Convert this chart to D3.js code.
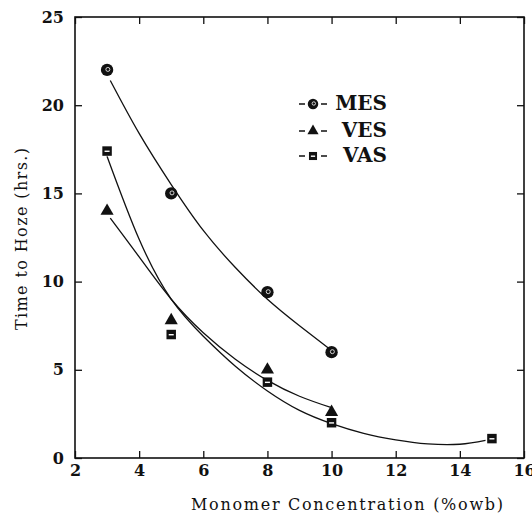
<!DOCTYPE html>
<html>
<head>
<meta charset="utf-8">
<script src="https://cdn.jsdelivr.net/npm/d3@7"></script>
<style>
  body { margin: 0; background: #fff; }
</style>
</head>
<body>
<div id="chart"></div>
<script>
// measured points
var mesX = [3, 5, 8, 10];
var mesY = [22, 15, 9.4, 6];
var vesX = [3, 5, 8, 10];
var vesY = [14, 7.8, 5, 2.6];
var vasX = [3, 5, 8, 10, 15];
var vasY = [17.4, 7, 4.3, 2, 1.1];

// fitted curves
var mesFitX = [3.1, 4, 5, 6, 7, 8, 9, 10];
var mesFitY = [21.4, 18.4, 15.5, 12.9, 10.8, 9.0, 7.5, 6.1];
var vesFitX = [3.1, 4, 5, 6, 7, 8, 9, 10];
var vesFitY = [13.6, 11.4, 9.0, 7.1, 5.6, 4.4, 3.5, 2.85];
var vasFitX = [3.0, 4, 5, 6, 7, 8, 9, 10, 11, 12, 13, 14, 14.8];
var vasFitY = [17.1, 12.4, 9.0, 6.9, 5.2, 3.8, 2.7, 1.95, 1.4, 1.03, 0.8, 0.78, 1.0];

var xTicks = [2, 4, 6, 8, 10, 12, 14, 16];
var yTicks = [0, 5, 10, 15, 20, 25];
var seriesNames = ["MES", "VES", "VAS"];

var W = 532, H = 520;
var plotL = 75, plotR = 524, plotT = 17, plotB = 458;
var font = "'DejaVu Serif', serif";

var x = d3.scaleLinear().domain([2, 16]).range([plotL, plotR]);
var y = d3.scaleLinear().domain([0, 25]).range([plotB, plotT]);

var svg = d3.select("#chart").append("svg")
    .attr("width", W)
    .attr("height", H);

function zip(xs, ys) { return xs.map(function(v, i) { return [v, ys[i]]; }); }

//
// axes
//
function styleAxis(g) {
    g.attr("font-family", font).attr("font-size", 16).attr("font-weight", "bold");
    g.select(".domain").remove();
    g.selectAll(".tick line").attr("stroke", "#111").attr("stroke-width", 1.3);
    g.selectAll(".tick text").attr("fill", "#111");
}

svg.append("g")
    .attr("transform", "translate(0," + plotB + ")")
    .call(d3.axisBottom(x).tickValues(xTicks).tickSizeInner(-7).tickSizeOuter(0).tickPadding(7)
        .tickFormat(d3.format("d")))
    .call(styleAxis);

svg.append("g")
    .attr("transform", "translate(0," + plotT + ")")
    .call(d3.axisTop(x).tickValues(xTicks).tickSizeInner(-7).tickSizeOuter(0).tickFormat(""))
    .call(styleAxis);

svg.append("g")
    .attr("transform", "translate(" + plotL + ",0)")
    .call(d3.axisLeft(y).tickValues(yTicks).tickSizeInner(-7).tickSizeOuter(0).tickPadding(11)
        .tickFormat(d3.format("d")))
    .call(styleAxis);

svg.append("g")
    .attr("transform", "translate(" + plotR + ",0)")
    .call(d3.axisRight(y).tickValues(yTicks).tickSizeInner(-7).tickSizeOuter(0).tickFormat(""))
    .call(styleAxis);

// frame
svg.append("rect")
    .attr("x", plotL)
    .attr("y", plotT)
    .attr("width", plotR - plotL)
    .attr("height", plotB - plotT)
    .attr("fill", "none")
    .attr("stroke", "#111")
    .attr("stroke-width", 1.6);

// axis titles
svg.append("text")
    .attr("x", 347)
    .attr("y", 510)
    .attr("text-anchor", "middle")
    .attr("font-family", font)
    .attr("font-size", 16)
    .attr("fill", "#111")
    .attr("textLength", 312)
    .attr("lengthAdjust", "spacing")
    .text("Monomer Concentration (%owb)");

svg.append("text")
    .attr("transform", "translate(27,239) rotate(-90)")
    .attr("text-anchor", "middle")
    .attr("font-family", font)
    .attr("font-size", 16)
    .attr("fill", "#111")
    .attr("textLength", 182)
    .attr("lengthAdjust", "spacing")
    .text("Time to Hoze (hrs.)");

//
// fitted curves
//
var line = d3.line()
    .x(function(d) { return x(d[0]); })
    .y(function(d) { return y(d[1]); })
    .curve(d3.curveNatural);

[zip(mesFitX, mesFitY), zip(vesFitX, vesFitY), zip(vasFitX, vasFitY)].forEach(function(pts) {
    svg.append("path")
        .datum(pts)
        .attr("fill", "none")
        .attr("stroke", "#111")
        .attr("stroke-width", 1.3)
        .attr("d", line);
});

//
// markers
//
var symbolType = { MES: d3.symbolCircle, VES: d3.symbolTriangle, VAS: d3.symbolSquare };
var symbolSize = { MES: 120, VES: 75, VAS: 90 };

function marker(g, name, s) {
    g.append("path")
        .attr("d", d3.symbol().type(symbolType[name]).size(symbolSize[name] * s * s)())
        .attr("fill", "#111");
    if (name == "MES") {
        g.append("circle").attr("r", 2 * s).attr("cx", 0.8).attr("cy", -0.5)
            .attr("fill", "none").attr("stroke", "#fff").attr("stroke-width", 0.8);
    } else if (name == "VAS") {
        g.append("rect").attr("x", -2.5 * s).attr("y", -0.5).attr("width", 5 * s).attr("height", 1.4)
            .attr("fill", "#fff");
    }
}

var pointSets = { MES: zip(mesX, mesY), VES: zip(vesX, vesY), VAS: zip(vasX, vasY) };

seriesNames.forEach(function(name) {
    pointSets[name].forEach(function(d) {
        var g = svg.append("g")
            .attr("transform", "translate(" + x(d[0]) + "," + y(d[1]) + ")");
        marker(g, name, 1);
    });
});

//
// legend
//
var legendY = [104, 131, 156];
seriesNames.forEach(function(name, i) {
    var ly = legendY[i];
    svg.append("line")
        .attr("x1", 299).attr("x2", 327)
        .attr("y1", ly).attr("y2", ly)
        .attr("stroke", "#111")
        .attr("stroke-width", 1.5)
        .attr("stroke-dasharray", "6,16,6");
    var g = svg.append("g").attr("transform", "translate(313," + ly + ")");
    marker(g, name, 0.85);
    svg.append("text")
        .attr("x", 387)
        .attr("y", ly + 6)
        .attr("text-anchor", "end")
        .attr("font-family", font)
        .attr("font-size", 20)
        .attr("font-weight", "bold")
        .attr("fill", "#111")
        .text(name);
});
</script>
</body>
</html>
